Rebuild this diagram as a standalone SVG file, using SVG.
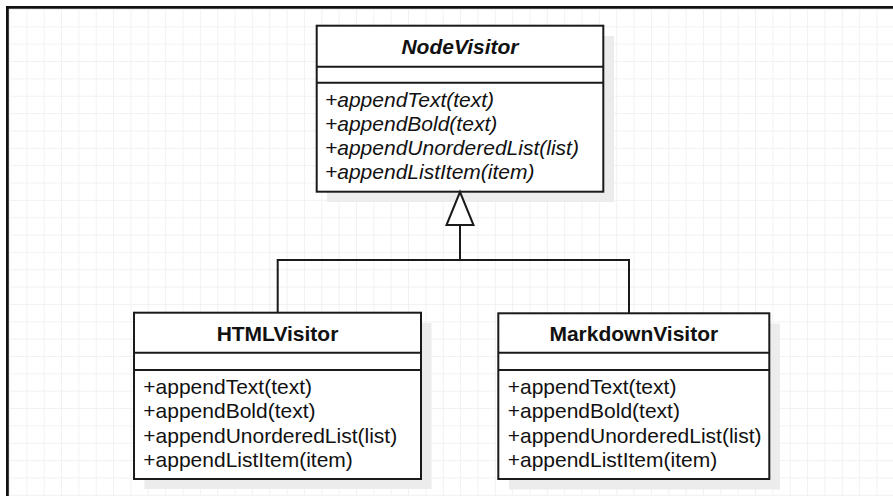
<svg xmlns="http://www.w3.org/2000/svg" width="893" height="496" viewBox="0 0 893 496">
  <defs>
    <pattern id="grid" x="9" y="9" width="17.35" height="17.35" patternUnits="userSpaceOnUse">
      <path d="M0,0.5 H17.35 M0.5,0 V17.35" fill="none" stroke="#f1f1f1" stroke-width="1"/>
    </pattern>
    <style>
      .box { fill: #ffffff; stroke: #1a1a1a; stroke-width: 2; }
      .shadow { fill: #ececec; }
      .div { stroke: #1a1a1a; stroke-width: 2; fill: none; }
      .title { font-family: "Liberation Sans", Arial, sans-serif; font-size: 21px; font-weight: bold; fill: #111111; text-anchor: middle; }
      .abstract { font-style: italic; }
      .member { font-family: "Liberation Sans", Arial, sans-serif; font-size: 21px; fill: #111111; }
      .conn { stroke: #1a1a1a; stroke-width: 2; fill: none; }
      .head { stroke: #1a1a1a; stroke-width: 2; fill: #ffffff; }
    </style>
  </defs>
  <rect x="0" y="0" width="893" height="496" fill="#ffffff"/>
  <rect x="9" y="9" width="884" height="487" fill="url(#grid)"/>
  <path d="M7.4,496 V7.4 H893" fill="none" stroke="#111111" stroke-width="2.8"/>

  <g id="NodeVisitor">
    <rect class="shadow" x="327" y="36" width="287" height="166"/>
    <rect class="box" x="316.7" y="25.7" width="286.6" height="166"/>
    <path class="div" d="M316.7,66.7 H603.3 M316.7,82.7 H603.3"/>
    <text class="title abstract" x="460" y="53.5">NodeVisitor</text>
    <g class="member" font-style="italic">
      <text x="325" y="106.7">+appendText(text)</text>
      <text x="325" y="130.7">+appendBold(text)</text>
      <text x="325" y="155.3">+appendUnorderedList(list)</text>
      <text x="325" y="179.3">+appendListItem(item)</text>
    </g>
  </g>

  <g id="HTMLVisitor">
    <rect class="shadow" x="144.5" y="323" width="287" height="166"/>
    <rect class="box" x="134" y="312.7" width="287" height="166.3"/>
    <path class="div" d="M134,352.7 H421 M134,370 H421"/>
    <text class="title" x="277.5" y="340.7">HTMLVisitor</text>
    <g class="member">
      <text x="143.3" y="394.3">+appendText(text)</text>
      <text x="143.3" y="418.3">+appendBold(text)</text>
      <text x="143.3" y="443">+appendUnorderedList(list)</text>
      <text x="143.3" y="466.7">+appendListItem(item)</text>
    </g>
  </g>

  <g id="MarkdownVisitor">
    <rect class="shadow" x="509" y="323.5" width="271" height="166"/>
    <rect class="box" x="498.3" y="313.3" width="271" height="165.7"/>
    <path class="div" d="M498.3,352.7 H769.3 M498.3,370 H769.3"/>
    <text class="title" x="633.8" y="340.7">MarkdownVisitor</text>
    <g class="member">
      <text x="507.7" y="394.3">+appendText(text)</text>
      <text x="507.7" y="418.3">+appendBold(text)</text>
      <text x="507.7" y="443">+appendUnorderedList(list)</text>
      <text x="507.7" y="466.7">+appendListItem(item)</text>
    </g>
  </g>

  <g id="connectors">
    <path class="conn" d="M460,225 V260 M277.7,312.7 V260 H629 V313.3"/>
    <polygon class="head" points="460,192 446.5,225 473.5,225"/>
  </g>
</svg>
